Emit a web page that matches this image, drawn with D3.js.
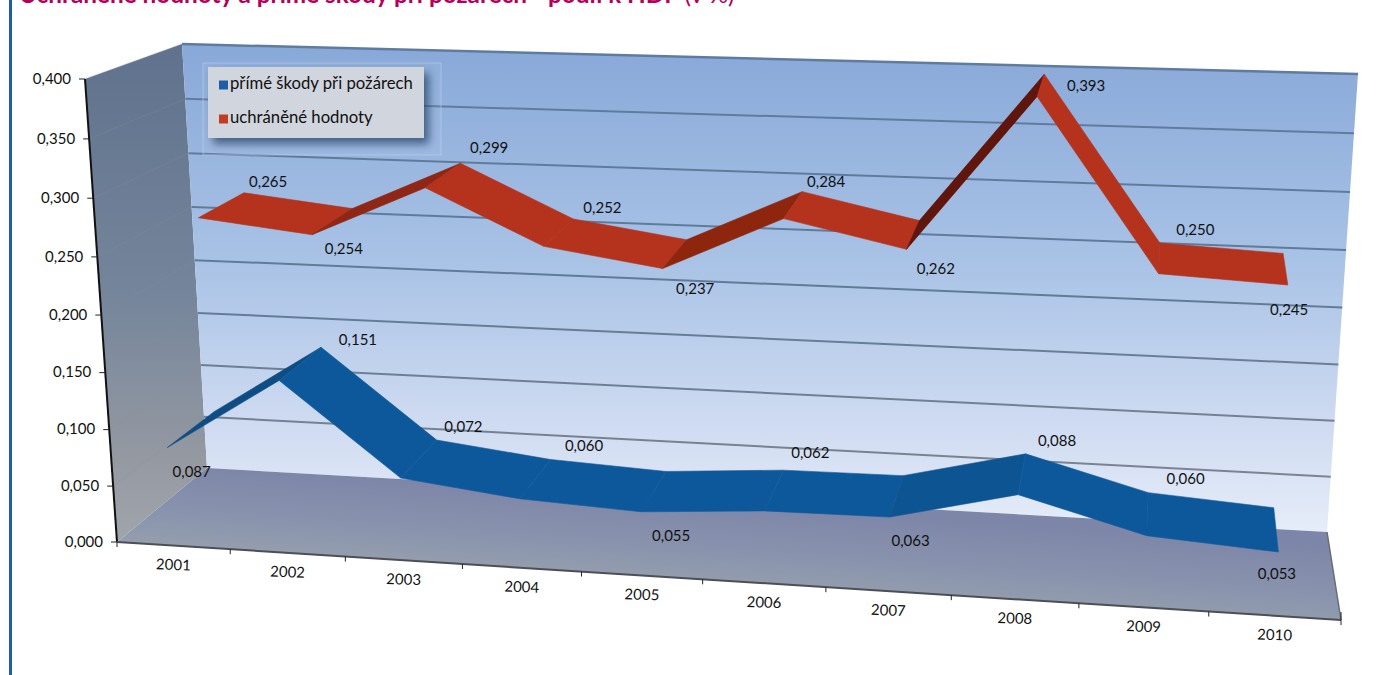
<!DOCTYPE html>
<html>
<head>
<meta charset="utf-8">
<script src="https://cdn.jsdelivr.net/npm/d3@7"></script>
<style>
  html, body { margin: 0; padding: 0; background: #fff; }
  svg { display: block; font-family: Lato, sans-serif; }
</style>
</head>
<body>
<svg id="chart" width="1387" height="675"></svg>
<script>
const categories = ["2001", "2002", "2003", "2004", "2005", "2006", "2007", "2008", "2009", "2010"];
const skody = [0.087, 0.151, 0.072, 0.060, 0.055, 0.062, 0.063, 0.088, 0.060, 0.053];
const hodnoty = [0.265, 0.254, 0.299, 0.252, 0.237, 0.284, 0.262, 0.393, 0.250, 0.245];
const seriesNames = ["přímé škody při požárech", "uchráněné hodnoty"];
const yTicks = [0, 0.05, 0.1, 0.15, 0.2, 0.25, 0.3, 0.35, 0.4];

// label nudges from the middle of the ribbon, px
const skodyNudge = [[0,44],[57,-22],[44,-30],[48,-31],[17,46],[36,-35],[14,47],[35,-31],[38,-33],[1,46]];
const hodnotyNudge = [[44,-20],[9,30],[44,-25],[42,-22],[19,38],[32,-20],[22,37],[45,3],[36,-25],[4,44]];

const svg = d3.select("#chart");
const fmt = d3.formatLocale({ decimal: ",", thousands: " ", grouping: [3], currency: ["", ""] }).format(".3f");

// the 3d box, [front, back] x [bottom, top] x [left, right]
const box = {
  fbl: [117, 542], ftl: [85, 79], fbr: [1341, 620], ftr: [1374, 120],
  bbl: [207, 468], btl: [182, 44], bbr: [1327, 532], btr: [1358, 74]
};

const xPos = d3.scaleBand().domain(categories).range([0, 1]);
const xTick = d3.scaleLinear().domain([0, categories.length]).range([0, 1]);
const vPos = d3.scaleLinear().domain([0, 0.4]).range([0, 1]);

const persp = (t, k) => t / (k + (1 - k) * t);
const mix = (a, b, t) => d3.interpolateArray(a, b)(t);

function project(u, v, d) {
  const tu = persp(u, 1.09), tv = persp(v, 1.04), td = persp(d, 0.85);
  const f = mix(mix(box.fbl, box.fbr, tu), mix(box.ftl, box.ftr, tu), tv);
  const b = mix(mix(box.bbl, box.bbr, tu), mix(box.btl, box.btr, tu), tv);
  return mix(f, b, td);
}

const poly = pts => "M" + pts.map(p => p.join(",")).join("L") + "Z";

const defs = svg.append("defs");

function gradient(id, x1, y1, x2, y2, stops) {
  const g = defs.append("linearGradient").attr("id", id)
    .attr("gradientUnits", "userSpaceOnUse")
    .attr("x1", x1).attr("y1", y1).attr("x2", x2).attr("y2", y2);
  stops.forEach(s => g.append("stop").attr("offset", s[0]).attr("stop-color", s[1]));
}

gradient("wall", 0, 44, 0, 532, [[0, "#88a8d8"], [0.45, "#a9c3e6"], [0.78, "#cfdbf1"], [1, "#e6edf9"]]);
gradient("side", 0, 50, 0, 540, [[0, "#60728d"], [0.5, "#75859b"], [0.85, "#969aa2"], [1, "#a0a4ab"]]);
gradient("floor", 700, 498, 692, 610, [[0, "#7d85a8"], [0.5, "#8a94ad"], [1, "#9fa8ae"]]);
gradient("grid", 0, 44, 0, 532, [[0, "#5f7b9f"], [0.5, "#5f7b98"], [1, "#85868c"]]);

const soft = defs.append("filter").attr("id", "soft");
soft.append("feGaussianBlur").attr("stdDeviation", 0.6);
const shadow = defs.append("filter").attr("id", "shadow")
  .attr("x", "-10%").attr("y", "-20%").attr("width", "125%").attr("height", "150%");
shadow.append("feDropShadow").attr("dx", 5).attr("dy", 6).attr("stdDeviation", 4)
  .attr("flood-color", "#2c4468").attr("flood-opacity", 0.75);

// page rule and cut off title
svg.append("rect").attr("x", 9).attr("y", 0).attr("width", 3).attr("height", 675).attr("fill", "#1a6299");
const title = svg.append("text").attr("x", 19).attr("y", 3).attr("fill", "#b4005a").attr("font-size", 24.3);
title.append("tspan").attr("font-weight", 700).text("Uchráněné hodnoty a přímé škody při požárech - podíl k HDP ");
title.append("tspan").text("(v %)");

// walls
svg.append("path").attr("d", poly([box.ftl, box.btl, box.bbl, box.fbl])).attr("fill", "url(#side)");
svg.append("path").attr("d", poly([box.btl, box.btr, box.bbr, box.bbl])).attr("fill", "url(#wall)");
svg.append("path").attr("d", poly([box.fbl, box.fbr, box.bbr, box.bbl])).attr("fill", "url(#floor)");

// grid
const gridTicks = yTicks.filter(t => t > 0);
svg.append("g").selectAll("line").data(gridTicks).join("line")
  .attr("x1", t => project(0, vPos(t), 1)[0]).attr("y1", t => project(0, vPos(t), 1)[1])
  .attr("x2", t => project(1, vPos(t), 1)[0]).attr("y2", t => project(1, vPos(t), 1)[1])
  .attr("stroke", "url(#grid)").attr("stroke-width", t => t === 0.4 ? 2.5 : 2);
svg.append("g").selectAll("line").data(gridTicks).join("line")
  .attr("x1", t => project(0, vPos(t), 0)[0]).attr("y1", t => project(0, vPos(t), 0)[1])
  .attr("x2", t => project(0, vPos(t), 1)[0]).attr("y2", t => project(0, vPos(t), 1)[1])
  .attr("stroke", "#8a8f98").attr("stroke-opacity", 0.2).attr("stroke-width", 1.5);

// axes
svg.append("line").attr("x1", box.ftl[0]).attr("y1", box.ftl[1]).attr("x2", box.fbl[0]).attr("y2", box.fbl[1])
  .attr("stroke", "#111").attr("stroke-width", 2);
svg.append("line").attr("x1", box.fbl[0]).attr("y1", box.fbl[1]).attr("x2", box.fbr[0]).attr("y2", box.fbr[1])
  .attr("stroke", "#4c4f55").attr("stroke-width", 2);
svg.append("line").attr("x1", box.bbr[0]).attr("y1", box.bbr[1]).attr("x2", box.fbr[0]).attr("y2", box.fbr[1])
  .attr("stroke", "#6a6d72").attr("stroke-width", 1.5);

const yAxis = svg.append("g").selectAll("g").data(yTicks).join("g")
  .attr("transform", t => "translate(" + project(0, vPos(t), 0).join(",") + ")");
yAxis.append("line").attr("x1", -6).attr("x2", 0).attr("stroke", "#222").attr("stroke-width", 1);
yAxis.append("text").attr("x", -14).attr("y", 1).attr("text-anchor", "end").attr("dominant-baseline", "middle")
  .attr("font-size", 15).attr("fill", "#111").text(fmt);

svg.append("g").selectAll("line").data(d3.range(categories.length + 1)).join("line")
  .attr("x1", i => project(xTick(i), 0, 0)[0]).attr("y1", i => project(xTick(i), 0, 0)[1] - (i === categories.length ? 8 : 0))
  .attr("x2", i => project(xTick(i), 0, 0)[0]).attr("y2", i => project(xTick(i), 0, 0)[1] + 5)
  .attr("stroke", "#222").attr("stroke-width", 1);

svg.append("g").selectAll("text").data(categories).join("text")
  .attr("transform", c => {
    const p = project(xPos(c) + xPos.bandwidth() / 2, 0, 0);
    return "translate(" + p[0] + "," + (p[1] + 20.5) + ") rotate(2)";
  })
  .attr("text-anchor", "middle").attr("dominant-baseline", "middle")
  .attr("font-size", 15).attr("fill", "#111").text(c => c);

// ribbons, steeper rise = darker side
function ribbon(values, d0, d1, flat, rise, dark) {
  const shade = d3.scaleLinear().domain([0.01, 0.05, 0.14]).range([flat, rise, dark]).clamp(true);
  const cx = i => xPos(categories[i]) + xPos.bandwidth() / 2;
  const g = svg.append("g").attr("filter", "url(#soft)");
  g.selectAll("path").data(d3.range(values.length - 1)).join("path")
    .attr("d", i => poly([
      project(cx(i), vPos(values[i]), d0),
      project(cx(i + 1), vPos(values[i + 1]), d0),
      project(cx(i + 1), vPos(values[i + 1]), d1),
      project(cx(i), vPos(values[i]), d1)
    ]))
    .attr("fill", i => shade(values[i + 1] - values[i]))
    .attr("stroke", i => shade(values[i + 1] - values[i]))
    .attr("stroke-width", 0.6);
}

ribbon(hodnoty, 0.45, 1, "#b5321c", "#8a2410", "#5a1007");
ribbon(skody, 0, 0.5, "#11599a", "#0f4f85", "#0c4a80");

function labels(values, nudge, d) {
  svg.append("g").selectAll("text").data(values).join("text")
    .attr("x", (v, i) => project(xPos(categories[i]) + xPos.bandwidth() / 2, vPos(v), d)[0] + nudge[i][0])
    .attr("y", (v, i) => project(xPos(categories[i]) + xPos.bandwidth() / 2, vPos(v), d)[1] + nudge[i][1])
    .attr("text-anchor", "middle").attr("dominant-baseline", "middle")
    .attr("font-size", 15).attr("fill", "#111").text(fmt);
}
labels(hodnoty, hodnotyNudge, 0.75);
labels(skody, skodyNudge, 0.25);

// legend
const legend = svg.append("g");
legend.append("rect").attr("x", 203).attr("y", 63).attr("width", 238).attr("height", 92)
  .attr("fill", "#ffffff").attr("fill-opacity", 0.05).attr("stroke", "#c5d5ee").attr("stroke-opacity", 0.5).attr("stroke-width", 1);
legend.append("rect").attr("x", 208).attr("y", 67).attr("width", 216).attr("height", 71)
  .attr("fill", "#d1d5de").attr("filter", "url(#shadow)");
const legendColor = d3.scaleOrdinal().domain(seriesNames).range(["#1b5fa8", "#c23c22"]);
const legendRow = d3.scalePoint().domain(seriesNames).range([85, 119]);
const rows = legend.selectAll("g").data(seriesNames).join("g")
  .attr("transform", n => "translate(219," + legendRow(n) + ")");
rows.append("rect").attr("y", -4.5).attr("width", 9).attr("height", 9).attr("fill", legendColor);
rows.append("text").attr("x", 11).attr("y", 0).attr("dominant-baseline", "middle")
  .attr("font-size", 16.7).attr("fill", "#111").text(n => n);
</script>
</body>
</html>
